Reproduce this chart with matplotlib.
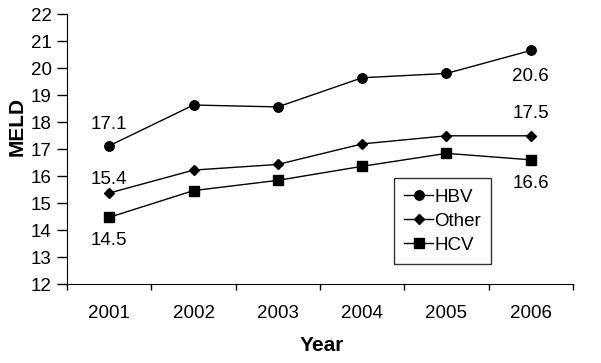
import matplotlib.pyplot as plt

plt.rcParams['font.family'] = ['Liberation Sans', 'DejaVu Sans']

years = ['2001', '2002', '2003', '2004', '2005', '2006']
hbv = [17.13, 18.64, 18.57, 19.65, 19.81, 20.66]
other = [15.38, 16.23, 16.44, 17.2, 17.5, 17.5]
hcv = [14.48, 15.47, 15.85, 16.37, 16.85, 16.61]

fig = plt.figure(figsize=(6.01, 3.63), dpi=100)
ax = fig.add_axes([0.1115, 0.2168, 0.8419, 0.7438])

x = list(range(len(years)))
ax.plot(x, hbv, color='black', lw=1, marker='o', ms=6.8, label='HBV')
ax.plot(x, other, color='black', lw=1, marker='D', ms=5, label='Other')
ax.plot(x, hcv, color='black', lw=1, marker='s', ms=6.5, label='HCV')

# value labels at first/last year
fs = 13.5
ax.annotate('17.1', (0, hbv[0]), xytext=(0, 15), textcoords='offset points', ha='center', va='center', fontsize=fs)
ax.annotate('15.4', (0, other[0]), xytext=(0, 9.5), textcoords='offset points', ha='center', va='center', fontsize=fs)
ax.annotate('14.5', (0, hcv[0]), xytext=(0, -16.5), textcoords='offset points', ha='center', va='center', fontsize=fs)
ax.annotate('20.6', (5, hbv[5]), xytext=(0, -18.5), textcoords='offset points', ha='center', va='center', fontsize=fs)
ax.annotate('17.5', (5, other[5]), xytext=(0, 16.3), textcoords='offset points', ha='center', va='center', fontsize=fs)
ax.annotate('16.6', (5, hcv[5]), xytext=(0, -16.8), textcoords='offset points', ha='center', va='center', fontsize=fs)

ax.set_xlim(-0.5, 5.5)
ax.set_ylim(12, 22)
ax.set_yticks(range(12, 23))
ax.set_xticks(x)
ax.set_xticklabels(years)
ax.set_xticks([i - 0.5 for i in range(len(years) + 1)], minor=True)
ax.tick_params(axis='x', which='major', length=0, pad=15, labelsize=fs)
ax.tick_params(axis='x', which='minor', length=4.5, width=1)
ax.tick_params(axis='y', length=7, width=1, pad=4, labelsize=fs)
ax.spines['top'].set_visible(False)
ax.spines['right'].set_visible(False)

ax.text(0.504, -0.227, 'Year', transform=ax.transAxes, ha='center', va='center',
        fontsize=15, fontweight='bold')
ax.text(-0.099, 0.583, 'MELD', transform=ax.transAxes, ha='center', va='center',
        rotation=90, fontsize=15, fontweight='bold')

leg = ax.legend(loc='lower left', bbox_to_anchor=(0.646, 0.075), fontsize=fs,
                frameon=True, fancybox=False, edgecolor='black', handlelength=1.55,
                handletextpad=0.05, borderpad=0.55, labelspacing=0.37, borderaxespad=0)
leg.get_frame().set_linewidth(1)

fig.savefig('out.png', dpi=100)
